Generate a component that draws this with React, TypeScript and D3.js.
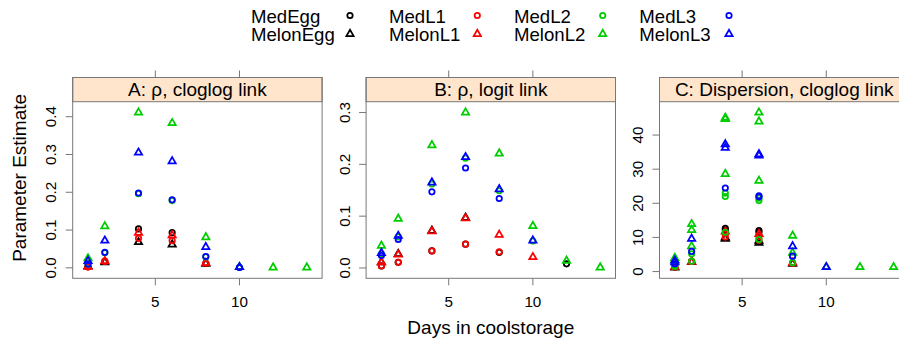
import React from "react";
import * as d3 from "d3";

type Pt = [number, number];

// groups, in drawing / legend order
const groupNames = ["MedEgg", "MelonEgg", "MedL1", "MelonL1", "MedL2", "MelonL2", "MedL3", "MelonL3"];
const groupColors = ["#000000", "#000000", "#ff0000", "#ff0000", "#00cd00", "#00cd00", "#0000ff", "#0000ff"];
const groupShapes = ["circle", "triangle", "circle", "triangle", "circle", "triangle", "circle", "triangle"];

const panelTitles = ["A: \u03c1, cloglog link", "B: \u03c1, logit link", "C: Dispersion, cloglog link"];

// [day, estimate] per group
const rhoCloglog: Pt[][] = [
  [[1, 0.003], [2, 0.017], [4, 0.103], [6, 0.093], [8, 0.012]],
  [[1, 0.004], [2, 0.015], [4, 0.068], [6, 0.062], [8, 0.011]],
  [[1, 0.002], [2, 0.017], [4, 0.078], [6, 0.072], [8, 0.012]],
  [[1, 0.003], [2, 0.018], [4, 0.093], [6, 0.086], [8, 0.013]],
  [[1, 0.010], [2, 0.040], [4, 0.196], [6, 0.178], [8, 0.029], [10, 0.001]],
  [[1, 0.025], [2, 0.110], [4, 0.411], [6, 0.383], [8, 0.081], [10, 0.002], [12, 0.001], [14, 0.001]],
  [[1, 0.010], [2, 0.041], [4, 0.198], [6, 0.180], [8, 0.030], [10, 0.001]],
  [[1, 0.018], [2, 0.072], [4, 0.305], [6, 0.282], [8, 0.055], [10, 0.002]],
];

const rhoLogit: Pt[][] = [
  [[1, 0.004], [2, 0.011], [4, 0.033], [6, 0.046], [8, 0.030], [12, 0.008]],
  [[1, 0.011], [2, 0.027], [4, 0.072], [6, 0.097]],
  [[1, 0.004], [2, 0.011], [4, 0.033], [6, 0.046], [8, 0.031]],
  [[1, 0.011], [2, 0.026], [4, 0.071], [6, 0.096], [8, 0.064], [10, 0.021]],
  [[1, 0.027], [2, 0.060], [4, 0.162], [6, 0.212], [8, 0.149], [10, 0.052]],
  [[1, 0.043], [2, 0.095], [4, 0.237], [6, 0.300], [8, 0.221], [10, 0.081], [12, 0.014], [14, 0.001]],
  [[1, 0.024], [2, 0.055], [4, 0.147], [6, 0.193], [8, 0.134]],
  [[1, 0.029], [2, 0.062], [4, 0.165], [6, 0.214], [8, 0.152], [10, 0.053]],
];

const dispersion: Pt[][] = [
  [[1, 1.3], [2, 3.0], [4, 12.7], [4, 12.2], [6, 12.0], [6, 11.5], [8, 2.5]],
  [[1, 1.2], [2, 2.8], [4, 9.6], [4, 10.0], [6, 8.4], [6, 9.0], [8, 2.3]],
  [[1, 1.3], [2, 3.0], [4, 10.1], [4, 11.0], [6, 9.2], [6, 10.3], [8, 2.4]],
  [[1, 1.4], [2, 2.9], [4, 11.7], [6, 11.0], [8, 2.6]],
  [[1, 1.5], [1, 1.9], [2, 3.0], [2, 5.2], [4, 23.0], [4, 22.0], [4, 11.5], [6, 20.8], [6, 21.5], [6, 9.4], [8, 2.6], [8, 4.5]],
  [[1, 4.0], [1, 3.4], [2, 13.9], [2, 12.2], [2, 7.4], [4, 45.1], [4, 44.7], [4, 28.6], [6, 46.6], [6, 44.0], [6, 26.6], [8, 10.5], [8, 5.5], [10, 1.3], [12, 1.3], [14, 1.3]],
  [[1, 2.2], [2, 5.9], [4, 24.5], [6, 22.2], [6, 21.9], [8, 4.5]],
  [[1, 3.2], [1, 2.7], [2, 9.6], [4, 37.3], [4, 36.3], [6, 34.4], [6, 34.0], [8, 7.4], [10, 1.3]],
];

const panelData = [rhoCloglog, rhoLogit, dispersion];

const xTicks = [5, 10];
const yTicksA = [0, 0.1, 0.2, 0.3, 0.4];
const yTicksB = [0, 0.1, 0.2, 0.3];
const yTicksC = [0, 10, 20, 30, 40];
const yTicks = [yTicksA, yTicksB, yTicksC];
const yFormats = [d3.format(".1f"), d3.format(".1f"), d3.format("d")];

const FONT = "'Liberation Sans', Arial, Helvetica, sans-serif";
const W = 899;
const H = 345;
const PANEL_LEFT = 72.7;
const PANEL_W = 249.4;
const PANEL_GAP = 44;
const STRIP_TOP = 77.5;
const STRIP_BOT = 101.7;
const PANEL_BOT = 278.3;
const TICK = 7;
const BORDER = "#777777";
const R = 2.7;
const SW = 1.75;

// lattice-style 7% padding
const padded = (ext: [number, number]): [number, number] => {
  const d = (ext[1] - ext[0]) * 0.07;
  return [ext[0] - d, ext[1] + d];
};

const Symbol = ({ x, y, shape, color }: { x: number; y: number; shape: string; color: string }) => {
  if (shape === "circle") {
    return <circle cx={x} cy={y} r={R} fill="none" stroke={color} strokeWidth={SW} />;
  }
  const r = 1.555 * R;
  const xc = 1.347 * R;
  const yc = 0.778 * R;
  const d = `M${x},${y - r}L${x + xc},${y + yc}L${x - xc},${y + yc}Z`;
  return <path d={d} fill="none" stroke={color} strokeWidth={SW} strokeLinejoin="miter" />;
};

const legendTextX = [251, 389, 514, 639.3];
const legendSymX = [350, 477.3, 602.7, 729];

const App = () => {
  const allX = panelData.flat(2).map((p) => p[0]);
  const xDomain = padded(d3.extent(allX) as [number, number]);

  return (
    <svg width={W} height={H} style={{ display: "block", background: "#fff" }} fontFamily={FONT}>
      <style>{`body{margin:0}`}</style>

      {/* legend */}
      {groupNames.map((name, i) => {
        const col = Math.floor(i / 2);
        const row = i % 2;
        return (
          <g key={name}>
            <text x={legendTextX[col]} y={row === 0 ? 22.7 : 41} fontSize={18.6} fill="#000">
              {name}
            </text>
            <Symbol x={legendSymX[col]} y={row === 0 ? 15.5 : 34} shape={groupShapes[i]} color={groupColors[i]} />
          </g>
        );
      })}

      {panelData.map((groups, pi) => {
        const left = PANEL_LEFT + pi * (PANEL_W + PANEL_GAP);
        const right = left + PANEL_W;
        const xScale = d3.scaleLinear().domain(xDomain).range([left, right]);
        const yExt = d3.extent(groups.flat().map((p) => p[1])) as [number, number];
        const yScale = d3.scaleLinear().domain(padded(yExt)).range([PANEL_BOT, STRIP_BOT]);
        const fmt = yFormats[pi];
        return (
          <g key={pi}>
            <clipPath id={`clip${pi}`}>
              <rect x={left} y={STRIP_BOT} width={PANEL_W} height={PANEL_BOT - STRIP_BOT} />
            </clipPath>
            {/* strip */}
            <rect x={left} y={STRIP_TOP} width={PANEL_W} height={STRIP_BOT - STRIP_TOP} fill="#ffe5cc" stroke={BORDER} />
            <text x={(left + right) / 2} y={(STRIP_TOP + STRIP_BOT) / 2 + 6.5} fontSize={19} textAnchor="middle" fill="#000">
              {panelTitles[pi]}
            </text>
            {/* points */}
            <g clipPath={`url(#clip${pi})`}>
              {groups.map((pts, gi) =>
                pts.map((p, k) => (
                  <Symbol key={`${gi}-${k}`} x={xScale(p[0])} y={yScale(p[1])} shape={groupShapes[gi]} color={groupColors[gi]} />
                ))
              )}
            </g>
            {/* panel box */}
            <rect x={left} y={STRIP_TOP} width={PANEL_W} height={PANEL_BOT - STRIP_TOP} fill="none" stroke={BORDER} />
            {/* x ticks top and bottom */}
            {xTicks.map((t) => (
              <g key={t}>
                <line x1={xScale(t)} x2={xScale(t)} y1={STRIP_TOP} y2={STRIP_TOP - TICK} stroke={BORDER} />
                <line x1={xScale(t)} x2={xScale(t)} y1={PANEL_BOT} y2={PANEL_BOT + TICK} stroke={BORDER} />
                <text x={xScale(t)} y={307} fontSize={15.2} textAnchor="middle" fill="#000">
                  {t}
                </text>
              </g>
            ))}
            {/* y ticks */}
            {yTicks[pi].map((t) => (
              <g key={t}>
                <line x1={left} x2={left - TICK} y1={yScale(t)} y2={yScale(t)} stroke={BORDER} />
                <text
                  transform={`translate(${left - 16.5},${yScale(t)}) rotate(-90)`}
                  fontSize={15.2}
                  textAnchor="middle"
                  fill="#000"
                >
                  {fmt(t)}
                </text>
              </g>
            ))}
          </g>
        );
      })}

      {/* axis titles */}
      <text
        transform={`translate(${25.5},${(STRIP_TOP + PANEL_BOT) / 2}) rotate(-90)`}
        fontSize={19}
        textAnchor="middle"
        fill="#000"
      >
        Parameter Estimate
      </text>
      <text
        x={(PANEL_LEFT + PANEL_LEFT + 3 * PANEL_W + 2 * PANEL_GAP) / 2}
        y={334}
        fontSize={19}
        textAnchor="middle"
        fill="#000"
      >
        Days in coolstorage
      </text>
    </svg>
  );
};

export default App;
